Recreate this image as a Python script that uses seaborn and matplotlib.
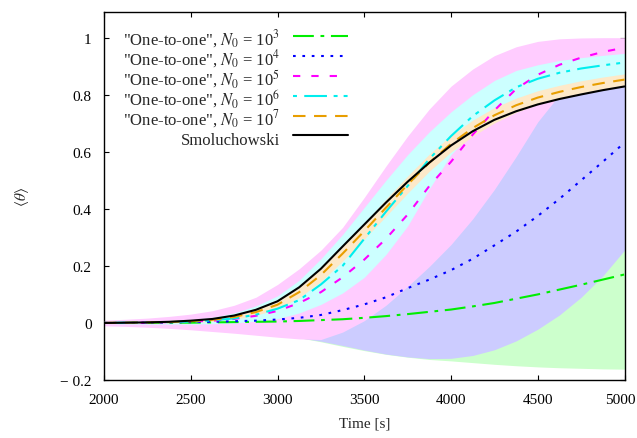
import matplotlib
matplotlib.use("Agg")
import matplotlib.pyplot as plt
import matplotlib.transforms as mtransforms
import seaborn as sns

# ---- data -------------------------------------------------------------
time = [2000, 2125, 2250, 2375, 2500, 2625, 2750, 2875, 3000, 3125, 3250, 3375, 3500,
        3625, 3750, 3875, 4000, 4125, 4250, 4375, 4500, 4625, 4750, 4875, 5000]

smoluchowski = [0.000, 0.001, 0.002, 0.004, 0.008, 0.014, 0.026, 0.046, 0.076, 0.125, 0.190, 0.268, 0.345,
                0.422, 0.495, 0.562, 0.622, 0.672, 0.712, 0.742, 0.766, 0.785, 0.801, 0.816, 0.829]

# N0 = 10^3
n3_mean = [0.000, 0.000, 0.000, 0.001, 0.001, 0.002, 0.003, 0.004, 0.005, 0.007, 0.010, 0.013, 0.018,
           0.024, 0.031, 0.039, 0.047, 0.058, 0.070, 0.085, 0.100, 0.117, 0.134, 0.152, 0.170]
n3_low = [-0.004, -0.006, -0.009, -0.012, -0.016, -0.021, -0.027, -0.034, -0.042, -0.052, -0.066, -0.082, -0.097,
          -0.110, -0.120, -0.128, -0.133, -0.139, -0.145, -0.150, -0.154, -0.157, -0.159, -0.161, -0.162]
n3_high = [0.004, 0.005, 0.006, 0.007, 0.009, 0.011, 0.013, 0.016, 0.020, 0.025, 0.030, 0.038, 0.047,
           0.058, 0.070, 0.085, 0.100, 0.120, 0.145, 0.175, 0.210, 0.250, 0.300, 0.360, 0.420]

# N0 = 10^4
n4_mean = [0.000, 0.000, 0.001, 0.002, 0.003, 0.004, 0.006, 0.008, 0.012, 0.018, 0.028, 0.045, 0.065,
           0.090, 0.122, 0.152, 0.185, 0.225, 0.272, 0.320, 0.375, 0.435, 0.500, 0.565, 0.632]
n4_low = [-0.005, -0.007, -0.010, -0.013, -0.017, -0.022, -0.028, -0.035, -0.043, -0.052, -0.064, -0.079, -0.095,
          -0.109, -0.119, -0.125, -0.124, -0.114, -0.094, -0.063, -0.022, 0.028, 0.090, 0.165, 0.255]
n4_high = [0.005, 0.006, 0.008, 0.011, 0.015, 0.020, 0.030, 0.045, 0.065, 0.090, 0.120, 0.160, 0.210,
           0.270, 0.340, 0.420, 0.500, 0.580, 0.660, 0.730, 0.790, 0.840, 0.880, 0.910, 0.930]

# N0 = 10^5
n5_mean = [0.000, 0.000, 0.001, 0.003, 0.005, 0.008, 0.014, 0.025, 0.042, 0.070, 0.108, 0.160, 0.222,
           0.295, 0.380, 0.480, 0.565, 0.660, 0.745, 0.820, 0.870, 0.905, 0.930, 0.950, 0.965]
n5_low = [-0.010, -0.012, -0.015, -0.019, -0.024, -0.030, -0.036, -0.043, -0.050, -0.056, -0.058, -0.032, 0.008,
          0.062, 0.128, 0.198, 0.275, 0.365, 0.468, 0.583, 0.705, 0.800, 0.855, 0.882, 0.897]
n5_high = [0.010, 0.013, 0.017, 0.023, 0.031, 0.043, 0.062, 0.090, 0.135, 0.190, 0.255, 0.335, 0.440,
           0.550, 0.655, 0.750, 0.830, 0.890, 0.937, 0.968, 0.987, 0.996, 0.999, 1.000, 1.000]

# N0 = 10^6
n6_mean = [0.000, 0.001, 0.002, 0.003, 0.005, 0.009, 0.016, 0.029, 0.050, 0.080, 0.135, 0.200, 0.295,
           0.390, 0.480, 0.575, 0.655, 0.725, 0.780, 0.826, 0.856, 0.877, 0.892, 0.903, 0.913]
n6_low = [-0.002, -0.003, -0.004, -0.004, -0.004, -0.003, 0.000, 0.006, 0.015, 0.035, 0.065, 0.105, 0.160,
          0.240, 0.340, 0.470, 0.590, 0.670, 0.715, 0.745, 0.770, 0.790, 0.806, 0.820, 0.832]
n6_high = [0.002, 0.003, 0.005, 0.008, 0.012, 0.020, 0.035, 0.060, 0.095, 0.150, 0.225, 0.310, 0.405,
           0.500, 0.590, 0.670, 0.740, 0.800, 0.850, 0.885, 0.905, 0.920, 0.930, 0.938, 0.945]

# N0 = 10^7
n7_mean = [0.000, 0.001, 0.002, 0.003, 0.006, 0.011, 0.021, 0.038, 0.064, 0.108, 0.168, 0.243, 0.322,
           0.404, 0.485, 0.562, 0.628, 0.683, 0.728, 0.763, 0.790, 0.810, 0.827, 0.841, 0.853]
n7_low = [-0.001, 0.000, 0.000, 0.000, 0.002, 0.005, 0.013, 0.027, 0.049, 0.089, 0.145, 0.217, 0.294,
          0.374, 0.455, 0.532, 0.599, 0.655, 0.701, 0.738, 0.766, 0.787, 0.805, 0.820, 0.833]
n7_high = [0.001, 0.002, 0.004, 0.006, 0.010, 0.017, 0.029, 0.049, 0.079, 0.127, 0.191, 0.269, 0.350,
           0.434, 0.515, 0.592, 0.657, 0.711, 0.755, 0.788, 0.814, 0.833, 0.849, 0.862, 0.873]

series_labels = ['"One-to-one", $N_0$ = 10$^{3}$',
                 '"One-to-one", $N_0$ = 10$^{4}$',
                 '"One-to-one", $N_0$ = 10$^{5}$',
                 '"One-to-one", $N_0$ = 10$^{6}$',
                 '"One-to-one", $N_0$ = 10$^{7}$',
                 'Smoluchowski']

x_ticks = [2000, 2500, 3000, 3500, 4000, 4500, 5000]
y_ticks = [-0.2, 0, 0.2, 0.4, 0.6, 0.8, 1]
y_tick_labels = ["\u2212 0.2", "0", "0.2", "0.4", "0.6", "0.8", "1"]

# ---- style ------------------------------------------------------------
sns.set_style("ticks")
plt.rcParams["font.family"] = ["Liberation Serif", "DejaVu Serif"]
plt.rcParams["mathtext.fontset"] = "stix"

line_colors = ["#00ee00", "#0000ff", "#ff00ff", "#00eeee", "#e89e00", "#000000"]
band_colors = ["#ccffcc", "#ccccff", "#ffccff", "#ccffff", "#fde9c9"]
line_styles = [(0, (10.0, 3.2, 1.8, 3.2)),
               (0, (1.3, 3.2)),
               (0, (3.5, 5.3)),
               (18.9, (10.9, 3.2, 1.9, 2.9, 1.9, 3.5)),
               (0, (6.0, 4.1)),
               "-"]

fig, ax = plt.subplots(figsize=(6.37, 4.39), dpi=100)
fig.subplots_adjust(left=0.1633, right=0.9804, bottom=0.1321, top=0.9704)

# spread bands, each drawn over the previous one
bands = [(n3_low, n3_high), (n4_low, n4_high), (n5_low, n5_high),
         (n6_low, n6_high), (n7_low, n7_high)]
for (lo, hi), col in zip(bands, band_colors):
    ax.fill_between(time, lo, hi, color=col, linewidth=0, zorder=1)

# mean curves
means = [n3_mean, n4_mean, n5_mean, n6_mean, n7_mean, smoluchowski]
for y, col, ls, lab in zip(means, line_colors, line_styles, series_labels):
    sns.lineplot(x=time, y=y, color=col, linestyle=ls, linewidth=1.5,
                 label=lab, ax=ax, zorder=3)

ax.set_xlim(2000, 5000)
ax.set_ylim(-0.2, 1.09)
ax.set_xticks(x_ticks)
ax.set_xticklabels([str(t) for t in x_ticks])
ax.set_yticks(y_ticks)
ax.set_yticklabels(y_tick_labels)
ax.tick_params(direction="in", top=True, right=True, length=3.5, width=0.8,
               labelsize=11, pad=9, colors="black")
for sp in ax.spines.values():
    sp.set_linewidth(1.0)
    sp.set_color("black")

# keep the last x tick label inside the canvas
last = ax.get_xticklabels()[-1]
last.set_transform(last.get_transform()
                   + mtransforms.ScaledTranslation(-0.045, 0, fig.dpi_scale_trans))

ax.set_xlabel("Time [s]", fontsize=11, labelpad=8)
ax.set_ylabel(r"$\langle\theta\rangle$", fontsize=11)
ax.yaxis.set_label_coords(-0.14, 0.5)

leg = ax.legend(loc="upper left", bbox_to_anchor=(0.193, 0.9355),
                bbox_transform=fig.transFigure, frameon=False, markerfirst=False,
                handlelength=3.3, handleheight=1.8, handletextpad=0.76,
                labelspacing=-0.22, borderpad=0, borderaxespad=0, fontsize=12)
leg.set_zorder(5)

fig.savefig("out.png", dpi=100)
